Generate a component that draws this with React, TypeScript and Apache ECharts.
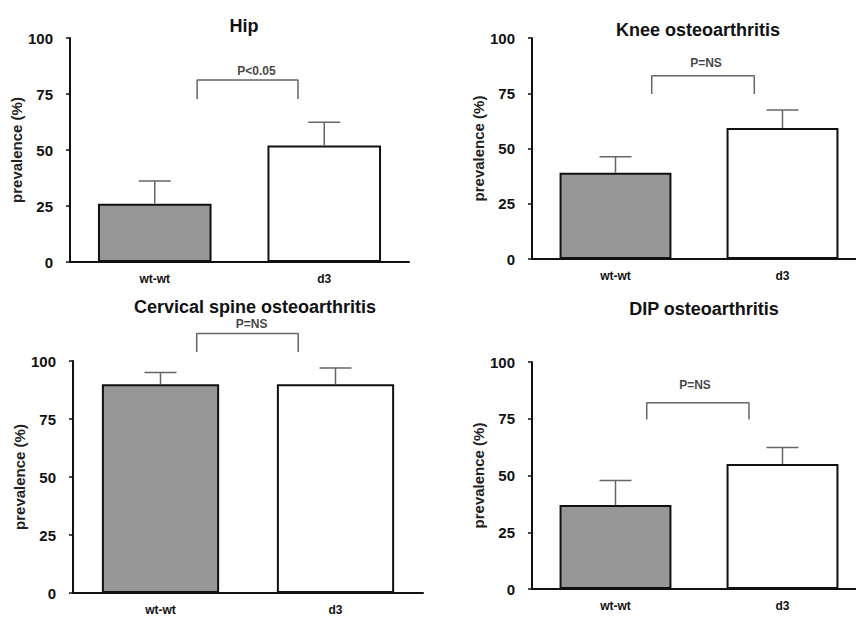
import React, { useEffect, useRef } from "react";
import * as echarts from "echarts";

// ---- data ----
const categories = ["wt-wt", "d3"];
const panelTitles = ["Hip", "Knee osteoarthritis", "Cervical spine osteoarthritis", "DIP osteoarthritis"];
const hipValues = [26, 52];
const hipErrTop = [36.2, 62.4];
const kneeValues = [39, 59.3];
const kneeErrTop = [46.3, 67.4];
const cervicalValues = [90, 90];
const cervicalErrTop = [95, 97];
const dipValues = [37, 55.1];
const dipErrTop = [47.8, 62.3];
const pLabels = ["P<0.05", "P=NS", "P=NS", "P=NS"];
// bracket: [left category pos, right category pos, top value, end value]
const hipBracket = [0.25, 0.845, 81.3, 72.8];
const kneeBracket = [0.217, 0.831, 82.9, 74.7];
const cervicalBracket = [0.207, 0.787, 111.8, 103.9];
const dipBracket = [0.187, 0.799, 82.0, 74.7];
// p-label anchor: [category pos, value]
const hipPText = [0.6, 85.3];
const kneePText = [0.542, 88.7];
const cervicalPText = [0.521, 116.0];
const dipPText = [0.476, 89.7];
const yMin = 0;
const yMax = 100;
const yInterval = 25;
const yAxisName = "prevalence (%)";

const panelValues = [hipValues, kneeValues, cervicalValues, dipValues];
const panelErr = [hipErrTop, kneeErrTop, cervicalErrTop, dipErrTop];
const panelBrackets = [hipBracket, kneeBracket, cervicalBracket, dipBracket];
const panelPText = [hipPText, kneePText, cervicalPText, dipPText];

// ---- layout / style ----
const layouts = [
  { left: 70, top: 38, width: 339, height: 224, tx: 239, ty: 12 },
  { left: 532, top: 38, width: 334, height: 221, tx: 693, ty: 16 },
  { left: 73, top: 361, width: 350, height: 232, tx: 250, ty: 293 },
  { left: 532, top: 362, width: 334, height: 227, tx: 699, ty: 295 },
];
const fills = ["#979797", "#ffffff"];
const FONT = "'Liberation Sans', Arial, sans-serif";
const INK = "#111";
const ERR = "#666";

function buildOption() {
  const grid: any[] = [];
  const xAxis: any[] = [];
  const yAxis: any[] = [];
  const title: any[] = [];
  const series: any[] = [];

  layouts.forEach((L, i) => {
    grid.push({
      left: L.left,
      top: L.top,
      width: L.width,
      height: L.height,
      containLabel: false,
      outerBoundsMode: "none",
    });
    title.push({
      text: panelTitles[i],
      left: L.tx,
      top: L.ty,
      textAlign: "center",
      textStyle: { fontFamily: FONT, fontSize: 18, fontWeight: "bold", color: INK, lineHeight: 18 },
    });
    xAxis.push({
      type: "category",
      gridIndex: i,
      data: categories,
      axisLine: { onZero: false, lineStyle: { color: INK, width: 2 } },
      axisTick: { alignWithLabel: true, length: 5, lineStyle: { color: INK, width: 1.5 } },
      axisLabel: { margin: 11, fontFamily: FONT, fontSize: 12, fontWeight: "bold", color: INK },
      splitLine: { show: false },
    });
    xAxis.push({
      type: "value",
      gridIndex: i,
      min: -0.5,
      max: 1.5,
      show: false,
      splitLine: { show: false },
    });
    yAxis.push({
      type: "value",
      gridIndex: i,
      min: yMin,
      max: yMax,
      interval: yInterval,
      name: yAxisName,
      nameLocation: "middle",
      nameRotate: 90,
      nameGap: 41,
      nameTextStyle: { fontFamily: FONT, fontSize: 15, fontWeight: "bold", color: "#222" },
      axisLine: { show: true, onZero: false, lineStyle: { color: INK, width: 2 } },
      axisTick: { show: true, length: 4, lineStyle: { color: INK, width: 1.5 } },
      axisLabel: { margin: 17, fontFamily: FONT, fontSize: 15, fontWeight: "bold", color: INK },
      splitLine: { show: false },
    });

    const vals = panelValues[i];
    const errs = panelErr[i];
    series.push({
      type: "bar",
      xAxisIndex: 2 * i,
      yAxisIndex: i,
      barWidth: "67%",
      data: vals.map((v, j) => ({ value: v, itemStyle: { color: fills[j] } })),
      itemStyle: { borderColor: INK, borderWidth: 2 },
      silent: true,
      z: 2,
    });
    series.push({
      type: "custom",
      xAxisIndex: 2 * i,
      yAxisIndex: i,
      data: vals.map((v, j) => [j, v, errs[j]]),
      encode: { x: 0, y: [1, 2] },
      silent: true,
      z: 3,
      renderItem: (params: any, api: any) => {
        const j = api.value(0);
        const p0 = api.coord([j, api.value(1)]);
        const p1 = api.coord([j, api.value(2)]);
        const st = { stroke: ERR, lineWidth: 1.5 };
        return {
          type: "group",
          children: [
            { type: "line", shape: { x1: p0[0], y1: p0[1], x2: p1[0], y2: p1[1] }, style: st },
            { type: "line", shape: { x1: p1[0] - 16, y1: p1[1], x2: p1[0] + 16, y2: p1[1] }, style: st },
          ],
        };
      },
    });
    const b = panelBrackets[i];
    series.push({
      type: "line",
      xAxisIndex: 2 * i + 1,
      yAxisIndex: i,
      clip: false,
      symbol: "none",
      silent: true,
      lineStyle: { color: ERR, width: 1.5 },
      data: [
        [b[0], b[3]],
        [b[0], b[2]],
        [b[1], b[2]],
        [b[1], b[3]],
      ],
    });
    const t = panelPText[i];
    series.push({
      type: "scatter",
      xAxisIndex: 2 * i + 1,
      yAxisIndex: i,
      clip: false,
      silent: true,
      symbolSize: 0,
      data: [[t[0], t[1]]],
      label: {
        show: true,
        position: "inside",
        formatter: pLabels[i],
        fontFamily: FONT,
        fontSize: 12,
        fontWeight: "bold",
        color: INK,
      },
    });
  });

  return {
    animation: false,
    backgroundColor: "#ffffff",
    textStyle: { fontFamily: FONT },
    title,
    grid,
    xAxis,
    yAxis,
    series,
  };
}

export default function App() {
  const ref = useRef<HTMLDivElement>(null);
  useEffect(() => {
    if (!ref.current) return;
    const chart = echarts.init(ref.current, undefined, { renderer: "svg" });
    chart.setOption(buildOption() as any);
    return () => chart.dispose();
  }, []);
  return (
    <div
      ref={ref}
      style={{ position: "absolute", left: 0, top: 0, width: 856, height: 617, background: "#fff" }}
    />
  );
}
